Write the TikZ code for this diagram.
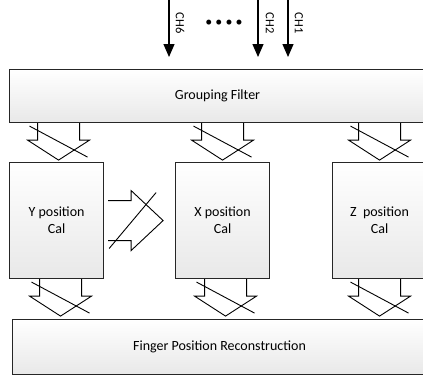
\documentclass[tikz,border=0pt]{standalone}
\usepackage{fontspec}
\setmainfont{Carlito}
\usetikzlibrary{calc}
\usetikzlibrary{arrows.meta}
\tikzset{>=latex}
\tikzset{block/.style = {draw=black!85, line width=1.1pt, top color=white, bottom color=black!9,
    align=center, inner sep=0pt, anchor=north west, font=\fontsize{14}{17}\selectfont}}
\tikzset{calbox/.style = {block, minimum width=94pt, minimum height=116pt}}
\tikzset{blockline/.style = {line width=0.9pt, line join=miter}}
\tikzset{chline/.style = {line width=1.2pt, -{Triangle[width=11pt,length=13pt]}}}
\tikzset{chlabel/.style = {rotate=-90, inner sep=0pt, font=\fontsize{12.5}{14}\selectfont}}
\tikzset{crossdown/.pic = {
    \draw[blockline] (-21,0) -- (-21,17) -- (-31,17) -- (0,37) -- (31,17) -- (21,17) -- (21,0);
    \draw[blockline] (-29,3) -- (29,34);
  }}
\tikzset{crossright/.pic = {
    \draw[blockline] (0,-20) -- (23,-20) -- (23,-30) -- (55,0) -- (23,30) -- (23,20) -- (0,20);
    \draw[blockline] (1,28) -- (48,-28);
  }}

\begin{document}
\begin{tikzpicture}[x=1pt, y=-1pt]
    \useasboundingbox (0,0) rectangle (423,381);
    \clip (0,0) rectangle (423,381);

    \node[block, minimum width=416pt, minimum height=53pt] (GF) at (9,69) {Grouping Filter};
    \node[calbox] (Y) at (9,162) {Y position\\Cal};
    \node[calbox] (X) at (175,162) {X position\\Cal};
    \node[calbox] (Z) at (332,162) {Z~ position\\Cal};
    \node[block, minimum width=414pt, minimum height=55pt] (FPR) at (12,319) {Finger Position Reconstruction};

    % input channels
    \coordinate (ch6) at (169,0);
    \coordinate (ch2) at (258,0);
    \coordinate (ch1) at (288,0);
    \node[chlabel] (l6) at (180,23) {CH6};
    \node[chlabel] (l2) at (270,23) {CH2};
    \node[chlabel] (l1) at (299,23) {CH1};
    \node[inner sep=0pt, font=\fontsize{14}{17}\selectfont] (dots) at (224,23) {• • • •};
    \draw[chline] (ch6) -- ([yshift=12pt]ch6 |- GF.north);
    \draw[chline] (ch2) -- ([yshift=12pt]ch2 |- GF.north);
    \draw[chline] (ch1) -- ([yshift=12pt]ch1 |- GF.north);

    % crossed buses
    \pic at ($(Y.north |- GF.south)+(2,0)$) {crossdown};
    \pic at (X.north |- GF.south) {crossdown};
    \pic at (Z.north |- GF.south) {crossdown};
    \pic at ($(Y.east)+(4,0)$) {crossright};
    \pic at ($(Y.south)+(4,0)$) {crossdown};
    \pic at ($(X.south)+(3,0)$) {crossdown};
    \pic at (Z.south) {crossdown};
\end{tikzpicture}
\end{document}
